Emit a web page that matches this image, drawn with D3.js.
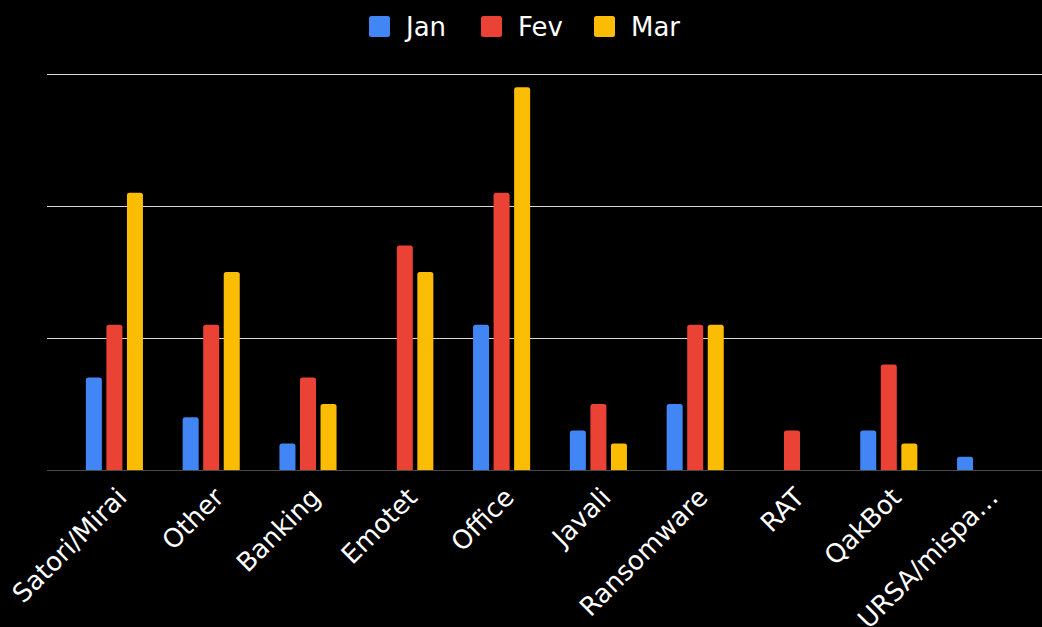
<!DOCTYPE html>
<html>
<head>
<meta charset="utf-8">
<script src="https://cdn.jsdelivr.net/npm/d3@7"></script>
<style>
  body { margin: 0; background: #000; }
  text { font-family: "DejaVu Sans", sans-serif; }
</style>
</head>
<body>
<div id="chart"></div>
<script>
var categories = ["Satori/Mirai", "Other", "Banking", "Emotet", "Office", "Javali", "Ransomware", "RAT", "QakBot", "URSA/mispa\u2026"];
var series = ["Jan", "Fev", "Mar"];
var jan = [7, 4, 2, 0, 11, 3, 5, 0, 3, 1];
var fev = [11, 11, 7, 17, 21, 5, 11, 3, 8, 0];
var mar = [21, 15, 5, 15, 29, 2, 11, 0, 2, 0];
var colors = ["#4285f4", "#ea4335", "#fbbc04"];
var yTicks = [0, 10, 20, 30];

var width = 1042, height = 627;

var svg = d3.select("#chart")
    .append("svg")
        .attr("width", width)
        .attr("height", height)
        .style("background", "#000");

var x0 = d3.scaleBand().domain(categories).range([66, 1034])
    .paddingInner(0.41).paddingOuter(0.205);
var x1 = d3.scaleBand().domain(series).range([0, x0.bandwidth()]).paddingInner(0.22);
var y = d3.scaleLinear().domain([0, 30]).range([470, 74]);

// gridlines
svg.append("g")
    .selectAll("line")
    .data(yTicks)
    .enter()
    .append("line")
        .attr("x1", 47)
        .attr("x2", width)
        .attr("y1", d => Math.round(y(d)) + 0.5)
        .attr("y2", d => Math.round(y(d)) + 0.5)
        .attr("stroke", d => d === 0 ? "#4a4a4a" : "#d9d9d9")
        .attr("stroke-width", 1);

var rows = categories.map((c, i) => ({cat: c, vals: [jan[i], fev[i], mar[i]]}));

var groups = svg.append("g")
    .selectAll("g")
    .data(rows)
    .enter()
    .append("g")
        .attr("transform", d => "translate(" + x0(d.cat) + ",0)");

groups.selectAll("path")
    .data(d => d.vals.map((v, j) => ({s: series[j], v: v, j: j})).filter(e => e.v > 0))
    .enter()
    .append("path")
        .attr("fill", d => colors[d.j])
        .attr("d", function(d) {
            var xl = x1(d.s), w = x1.bandwidth(), yt = y(d.v), yb = y(0), r = 2.5;
            return "M" + xl + "," + yb +
                "V" + (yt + r) +
                "Q" + xl + "," + yt + " " + (xl + r) + "," + yt +
                "H" + (xl + w - r) +
                "Q" + (xl + w) + "," + yt + " " + (xl + w) + "," + (yt + r) +
                "V" + yb + "Z";
        });

// category labels
svg.append("g")
    .selectAll("text")
    .data(categories)
    .enter()
    .append("text")
        .attr("text-anchor", "end")
        .attr("transform", d => "translate(" + (x0(d) + x0.bandwidth() / 2 + 14) + ",499) rotate(-45)")
        .attr("fill", "#ffffff")
        .style("font-size", "26px")
        .text(d => d);

// legend
var legendX = [369, 481, 594];
var legend = svg.append("g")
    .selectAll("g")
    .data(series)
    .enter()
    .append("g")
        .attr("transform", (d, i) => "translate(" + legendX[i] + ",16)");

legend.append("rect")
    .attr("width", 21)
    .attr("height", 21)
    .attr("rx", 2.5)
    .attr("fill", (d, i) => colors[i]);

legend.append("text")
    .attr("x", 37)
    .attr("y", 20)
    .attr("fill", "#ffffff")
    .style("font-size", "26px")
    .text(d => d);
</script>
</body>
</html>
